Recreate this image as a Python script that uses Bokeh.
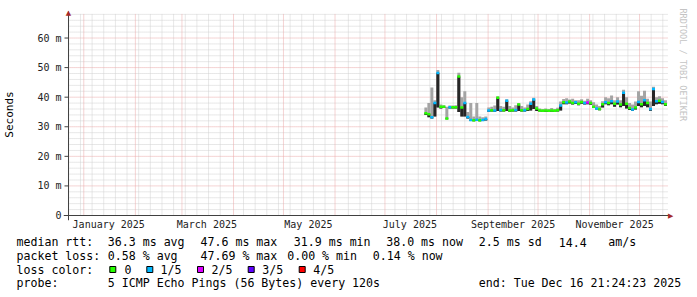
import pandas as pd
from bokeh.plotting import figure
from bokeh.layouts import column
from bokeh.models import (Range1d, FixedTicker, DatetimeTickFormatter, Label,
                          Title, ColumnDataSource)
from bokeh.core.properties import value
from bokeh.embed import file_html
from bokeh.resources import INLINE

# ---------------- data ----------------
# day of year 2025 (0 = Jan 1) of each consolidated sample
day = [205.6, 207.4, 209.2, 211.0, 212.8, 214.6, 216.4, 218.2, 220.0, 221.8,
       223.6, 225.4, 227.2, 229.0, 230.8, 232.6, 234.4, 236.2, 238.0, 239.8,
       241.6, 243.4, 245.2, 247.0, 248.8, 250.6, 252.4, 254.2, 256.0, 257.8,
       259.6, 261.4, 263.2, 265.0, 266.8, 268.6, 270.4, 272.2, 274.0, 275.8,
       277.6, 279.4, 281.2, 283.0, 284.8, 286.6, 288.4, 290.2, 292.0, 293.8,
       295.6, 297.4, 299.2, 301.0, 302.8, 304.6, 306.4, 308.2, 310.0, 311.8,
       313.6, 315.4, 317.2, 319.0, 320.8, 322.6, 324.4, 326.2, 328.0, 329.8,
       331.6, 333.4, 335.2, 337.0, 338.8, 340.6, 342.4, 344.2, 346.0, 347.8,
       349.6]
# median round trip time (ms)
median_ms = [34.6, 34.2, 33.2, 38.0, 48.2, 36.8, 36.8, 32.8, 36.6, 36.6,
             36.6, 47.0, 36.5, 38.0, 33.3, 32.3, 32.2, 32.4, 32.2, 32.3,
             32.6, 35.5, 35.6, 35.5, 39.8, 35.7, 35.6, 38.8, 35.5, 35.6,
             35.7, 37.5, 35.6, 35.6, 36.0, 37.8, 39.2, 36.2, 35.5, 35.4,
             35.5, 35.4, 35.5, 35.4, 35.6, 37.2, 38.3, 38.2, 38.5, 38.0,
             38.3, 37.8, 38.4, 38.0, 38.2, 38.0, 36.8, 36.2, 36.0, 37.6,
             38.3, 38.0, 38.6, 37.8, 38.5, 37.5, 41.5, 37.8, 36.3, 35.8,
             36.5, 38.4, 37.6, 39.0, 38.0, 36.0, 42.8, 38.6, 38.8, 38.4,
             37.6]
# smoke (spread of the pings), upper and lower edge (ms)
smoke_hi = [36.5, 38.0, 43.3, 39.0, 49.2, 37.5, 37.3, 36.8, 37.2, 37.2,
            37.3, 48.3, 40.0, 42.0, 35.0, 38.0, 33.5, 38.0, 33.5, 33.2,
            33.5, 36.5, 36.8, 37.2, 40.3, 37.0, 36.8, 39.3, 37.0, 36.5,
            37.3, 38.0, 37.0, 36.5, 37.5, 38.6, 39.8, 37.0, 36.2, 36.0,
            36.2, 36.0, 36.3, 36.0, 36.4, 38.5, 39.4, 39.6, 39.2, 39.5,
            39.0, 39.0, 39.3, 38.8, 39.5, 39.0, 38.3, 37.5, 37.0, 38.6,
            40.0, 39.6, 40.6, 39.0, 40.0, 39.0, 42.5, 40.0, 38.0, 37.5,
            38.5, 42.0, 40.5, 42.2, 39.5, 38.5, 43.5, 40.0, 40.3, 39.6,
            39.0]
smoke_lo = [34.0, 33.2, 32.8, 33.5, 36.5, 36.2, 36.3, 32.5, 36.2, 36.2,
            36.2, 35.0, 33.5, 33.5, 32.8, 32.0, 31.9, 32.0, 31.9, 32.0,
            32.1, 35.1, 35.2, 35.1, 35.3, 35.2, 35.2, 35.3, 35.1, 35.2,
            35.2, 35.3, 35.2, 35.2, 35.3, 35.5, 36.0, 35.3, 35.2, 35.1,
            35.1, 35.0, 35.1, 35.0, 35.2, 35.5, 37.6, 37.6, 37.9, 37.5,
            37.7, 37.3, 37.8, 37.5, 37.6, 37.4, 36.3, 35.8, 35.6, 36.5,
            37.6, 37.3, 37.6, 36.8, 37.5, 36.6, 37.0, 36.2, 35.7, 35.4,
            35.8, 37.0, 36.6, 37.0, 36.6, 35.4, 37.0, 37.6, 37.8, 37.6,
            37.0]
# packet loss class of each sample (index into loss_labels)
loss = [0, 0, 1, 1, 1, 0, 0, 0, 1, 0,
        0, 0, 0, 1, 1, 1, 0, 1, 0, 1,
        1, 1, 0, 1, 0, 1, 0, 1, 0, 0,
        1, 0, 0, 1, 0, 1, 1, 0, 0, 0,
        0, 0, 0, 0, 0, 1, 0, 1, 0, 0,
        1, 0, 0, 1, 2, 0, 0, 1, 0, 0,
        1, 0, 1, 0, 1, 0, 1, 0, 0, 1,
        0, 1, 0, 1, 0, 1, 1, 1, 0, 1,
        0]

loss_labels = ["0", "1/5", "2/5", "3/5", "4/5"]
loss_colors = ["#26ff00", "#00b8ff", "#dd00ff", "#5e00ff", "#ff0000"]

y_ticks = [0, 10, 20, 30, 40, 50, 60]
y_tick_labels = ["0", "10 m", "20 m", "30 m", "40 m", "50 m", "60 m"]
x_label_months = ["2025-01-01", "2025-03-01", "2025-05-01",
                  "2025-07-01", "2025-09-01", "2025-11-01"]

rtt_stats = ["median rtt:", "36.3 ms avg", "47.6 ms max", "31.9 ms min",
             "38.0 ms now", "2.5 ms sd", "14.4", "am/s"]
loss_stats = ["packet loss:", "0.58 % avg", "47.69 % max", "0.00 % min",
              "0.14 % now"]
probe_text = ["probe:", "5 ICMP Echo Pings (56 Bytes) every 120s",
              "end: Tue Dec 16 21:24:23 2025"]

# ---------------- layout / style ----------------
MONO = "DejaVu Sans Mono"
DAY_MS = 86400000.0
STEP_MS = 1.8 * DAY_MS
PX_DAYS = 0.6            # one pixel = 0.6 day (360 days over 600 px)
PX_MS = 1 / 2.958        # one pixel in ms of rtt
AXIS_COL = "#404040"


def ms(ts):
    return ts.value // 10**6


graph_start = pd.Timestamp("2024-12-22 19:40")
grid_end = graph_start + pd.Timedelta(days=360.6)
x_lo = graph_start - pd.Timedelta(days=5 * PX_DAYS)      # axis overhang left
x_hi = graph_start + pd.Timedelta(days=606 * PX_DAYS)    # arrow tip on the right
y_lo = -5 * PX_MS                                        # axis overhang below
y_hi = 207 * PX_MS                                       # arrow tip on top
grid_top = 68.3

t = pd.Timestamp("2025-01-01") + pd.to_timedelta(day, unit="D")
dark_top = [max(m, l) for m, l in zip(median_ms, smoke_lo)]
src = ColumnDataSource(dict(
    t=t, med=median_ms, hi=smoke_hi, lo=smoke_lo, dtop=dark_top,
    x0=t - pd.Timedelta(hours=21.6), x1=t + pd.Timedelta(hours=21.6),
    color=[loss_colors[k] for k in loss],
))

p = figure(width=697, height=235, x_axis_type="datetime",
           x_range=Range1d(x_lo, x_hi), y_range=Range1d(y_lo, y_hi),
           output_backend="svg", toolbar_location=None,
           min_border_left=62, min_border_right=24,
           min_border_top=8, min_border_bottom=15,
           background_fill_color="white", border_fill_color="white")
p.outline_line_color = None
p.frame_align = False
p.xgrid.visible = False
p.ygrid.visible = False

# ----- grid (drawn through the scales, limited to the graph area) -----
month_ts = pd.date_range("2025-01-01", "2025-12-01", freq="MS")
month_starts = [ms(d) for d in month_ts]
mondays = [ms(d) for d in pd.date_range("2024-12-23", "2025-12-15", freq="W-MON")
           if min(abs((d - m).total_seconds()) for m in month_ts) > 1.5 * 86400]
minor_y = [v for v in range(2, 69, 2) if v % 10 != 0]
major_y = y_ticks[1:]
gx0, gx1 = ms(graph_start), ms(grid_end)

p.segment(x0=mondays, y0=[0] * len(mondays), x1=mondays, y1=[grid_top] * len(mondays),
          line_color="#d0d0d0", line_dash="1 1", line_width=1)
p.segment(x0=[gx0] * len(minor_y), y0=minor_y, x1=[gx1] * len(minor_y), y1=minor_y,
          line_color="#d0d0d0", line_dash="1 1", line_width=1)
p.segment(x0=month_starts, y0=[0] * len(month_starts), x1=month_starts,
          y1=[grid_top] * len(month_starts),
          line_color="#eaa8a8", line_dash="1 1", line_width=1)
p.segment(x0=[gx0] * len(major_y), y0=major_y, x1=[gx1] * len(major_y), y1=major_y,
          line_color="#eaa8a8", line_dash="1 1", line_width=1)

# ----- smoke and median -----
p.vbar(x="t", width=STEP_MS, bottom="lo", top="hi", source=src,
       fill_color="#a4a4a4", line_color=None)
p.vbar(x="t", width=STEP_MS, bottom="lo", top="dtop", source=src,
       fill_color="#262626", line_color=None)
p.segment(x0="x0", y0="med", x1="x1", y1="med", source=src,
          line_color="color", line_width=2.5)

# ----- axis lines, y ticks and arrow heads (rrdtool style, crossing at origin) -----
p.segment(x0=[ms(x_lo)], y0=[0], x1=[ms(x_hi) - 3 * DAY_MS], y1=[0],
          line_color=AXIS_COL, line_width=1)
p.segment(x0=[gx0], y0=[y_lo], x1=[gx0], y1=[y_hi - 3 * PX_MS],
          line_color=AXIS_COL, line_width=1)
tick_x0 = ms(graph_start - pd.Timedelta(days=4 * PX_DAYS))
p.segment(x0=[tick_x0] * len(y_ticks), y0=y_ticks, x1=[gx0] * len(y_ticks), y1=y_ticks,
          line_color=AXIS_COL, line_width=1)
arrow_col = "#a52a2a"
p.add_layout(Label(x=gx0, y=y_hi, text="\u25b2",
                   text_font="DejaVu Sans", text_font_size="7px",
                   text_color=arrow_col, text_align="center", text_baseline="top"))
p.add_layout(Label(x=ms(x_hi), y=0, text="\u25b6",
                   text_font="DejaVu Sans", text_font_size="7px",
                   text_color=arrow_col, text_align="right", text_baseline="middle"))

# ----- y axis labels (panel axis, line hidden) -----
ya = p.yaxis[0]
ya.ticker = FixedTicker(ticks=y_ticks, minor_ticks=[])
ya.major_label_overrides = {k: v for k, v in zip(y_ticks, y_tick_labels)}
ya.axis_label = "Seconds"
ya.axis_label_text_font = MONO
ya.axis_label_text_font_size = "11px"
ya.axis_label_text_font_style = "normal"
ya.axis_label_text_color = "#000000"
ya.axis_label_standoff = 18
ya.major_label_text_font = MONO
ya.major_label_text_font_size = "10px"
ya.major_label_text_color = "#222222"
ya.major_tick_out = 0
ya.major_tick_in = 0
ya.minor_tick_out = 0
ya.minor_tick_in = 0
ya.major_label_standoff = 2
ya.axis_line_color = None
ya.major_tick_line_color = None
ya.minor_tick_line_color = None

# ----- x axis labels: centred mid-month, every second month -----
xa = p.xaxis[0]
label_ticks = [ms(pd.Timestamp(m) + pd.Timedelta(days=15)) for m in x_label_months]
xa.ticker = FixedTicker(ticks=label_ticks, minor_ticks=[])
fmt = "%B %Y"
xa.formatter = DatetimeTickFormatter(
    microseconds=fmt, milliseconds=fmt, seconds=fmt, minsec=fmt, minutes=fmt,
    hourmin=fmt, hours=fmt, days=fmt, months=fmt, years=fmt)
xa.major_label_text_font = MONO
xa.major_label_text_font_size = "10px"
xa.major_label_text_color = "#222222"
xa.major_tick_out = 0
xa.major_tick_in = 0
xa.minor_tick_out = 0
xa.minor_tick_in = 0
xa.major_label_standoff = -2
xa.axis_line_color = None
xa.major_tick_line_color = None
xa.minor_tick_line_color = None

# ----- watermark on the right -----
p.add_layout(Title(text="RRDTOOL / TOBI OETIKER", text_font=MONO,
                   text_font_size="8.5px", text_font_style="normal",
                   text_color="#c4c4c4", align="left", standoff=9), "right")

# ---------------- legend block below the graph ----------------
p2 = figure(width=697, height=62, x_range=Range1d(0, 697), y_range=Range1d(62, 0),
            x_axis_type=None, y_axis_type=None, output_backend="svg",
            toolbar_location=None, min_border=0,
            background_fill_color="white", border_fill_color="white")
p2.frame_align = False
p2.outline_line_color = None
p2.xgrid.visible = False
p2.ygrid.visible = False

txt = dict(text_font=value(MONO), text_font_size="11.6px",
           text_baseline="middle", text_align="left", text_color="#000000")

p2.text(x=[16, 107.3, 200, 293.3, 385.7, 478.3, 558.3, 607.7], y=[6.5] * 8,
        text=rtt_stats, **txt)
p2.text(x=[16, 107.3, 200, 286.7, 372.3], y=[20] * 5, text=loss_stats, **txt)
p2.text(x=[16], y=[34], text=["loss color:"], **txt)
p2.rect(x=[112.3, 149.3, 200, 250.7, 301.7], y=[34] * 5, width=6, height=6,
        fill_color=loss_colors, line_color="#000000", line_width=1)
p2.text(x=[124, 160, 211, 261.7, 312.7], y=[34] * 5, text=loss_labels, **txt)
p2.text(x=[16, 107.3, 478.3], y=[47.6] * 3, text=probe_text, **txt)

layout = column(p, p2, spacing=0)
open("out.html", "w").write(file_html(layout, INLINE))
